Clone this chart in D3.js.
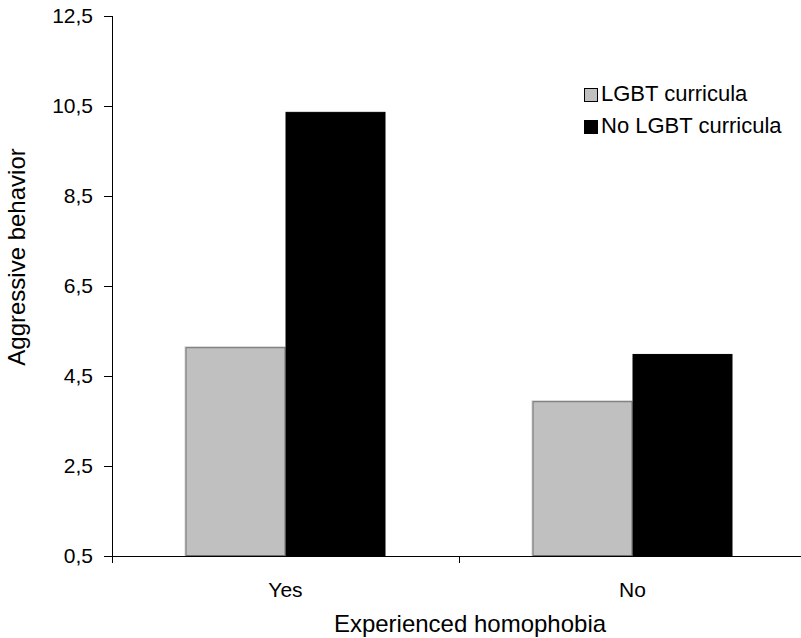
<!DOCTYPE html>
<html>
<head>
<meta charset="utf-8">
<script src="https://cdn.jsdelivr.net/npm/d3@7"></script>
<style>
  body { margin: 0; background: #fff; }
  text { font-family: "Liberation Sans", Arial, sans-serif; fill: #000; }
</style>
</head>
<body>
<svg id="chart" width="801" height="638"></svg>
<script>
// Datos
const categories = ['Yes', 'No'];
const series = ['LGBT curricula', 'No LGBT curricula'];
const lgbtValues = [5.14, 3.94];
const noLgbtValues = [10.37, 4.99];
const yTicks = [0.5, 2.5, 4.5, 6.5, 8.5, 10.5, 12.5];
const colors = ['#c0c0c0', '#000000'];

const svg = d3.select('#chart');
const plotLeft = 112, plotRight = 806, plotTop = 16, plotBottom = 556;

const y = d3.scaleLinear().domain([0.5, 12.5]).range([plotBottom, plotTop]);
const x0 = d3.scaleBand().domain(categories).range([plotLeft, plotRight]);
const x1 = d3.scaleBand().domain(series).range([0, x0.bandwidth()]).paddingOuter(0.735);

const rows = categories.map((c, i) => ({ cat: c, vals: [lgbtValues[i], noLgbtValues[i]] }));

// Barras
const groups = svg.selectAll('g.grp')
  .data(rows)
  .enter()
  .append('g')
  .attr('transform', d => `translate(${x0(d.cat)},0)`);

const bars = groups.selectAll('g.bar')
  .data(d => d.vals.map((v, j) => ({ s: series[j], v, j })))
  .enter()
  .append('g');

// halo claro alrededor de las barras grises
bars.filter(d => d.j === 0)
  .append('rect')
  .attr('x', d => x1(d.s) - 1)
  .attr('y', d => y(d.v) - 1)
  .attr('width', x1.bandwidth() + 1)
  .attr('height', d => y(0.5) - y(d.v) + 1)
  .attr('fill', '#d4d4d4');

bars.append('rect')
  .attr('x', d => x1(d.s) + 0.5)
  .attr('y', d => y(d.v) + 0.5)
  .attr('width', x1.bandwidth() - 1)
  .attr('height', d => y(0.5) - y(d.v) - 1)
  .attr('fill', d => colors[d.j])
  .attr('stroke', d => d.j === 0 ? '#707070' : '#000')
  .attr('stroke-width', 1);

// Eje Y
const yAxis = d3.axisLeft(y)
  .tickValues(yTicks)
  .tickSize(8)
  .tickPadding(11)
  .tickFormat(d => d3.format('.1f')(d).replace('.', ','));

svg.append('g')
  .attr('transform', `translate(${plotLeft},0)`)
  .call(yAxis)
  .call(g => g.select('.domain').attr('d', `M0.5,${plotTop}V${plotBottom + 7}`))
  .call(g => g.selectAll('text').style('font-size', '21px').attr('font-family', '"Liberation Sans", Arial, sans-serif'));

// Eje X
svg.append('line')
  .attr('x1', plotLeft).attr('x2', 801)
  .attr('y1', plotBottom + 0.5).attr('y2', plotBottom + 0.5)
  .attr('stroke', '#000');

svg.selectAll('line.xt')
  .data(categories.slice(1))
  .enter()
  .append('line')
  .attr('x1', d => x0(d) + 0.5).attr('x2', d => x0(d) + 0.5)
  .attr('y1', plotBottom).attr('y2', plotBottom + 7)
  .attr('stroke', '#000');

svg.selectAll('text.xl')
  .data(categories)
  .enter()
  .append('text')
  .attr('x', d => x0(d) + x0.bandwidth() / 2)
  .attr('y', 597)
  .attr('text-anchor', 'middle')
  .style('font-size', '21px')
  .text(d => d);

// Títulos de ejes
svg.append('text')
  .attr('x', 470)
  .attr('y', 632)
  .attr('text-anchor', 'middle')
  .style('font-size', '24px')
  .text('Experienced homophobia');

svg.append('text')
  .attr('transform', 'translate(25,257) rotate(-90)')
  .attr('text-anchor', 'middle')
  .style('font-size', '24px')
  .text('Aggressive behavior');

// Leyenda
const legend = svg.selectAll('g.leg')
  .data(series)
  .enter()
  .append('g')
  .attr('transform', (d, i) => `translate(584,${88 + i * 32})`);

legend.append('rect')
  .attr('x', 0.5).attr('y', 0.5)
  .attr('width', 13).attr('height', 13)
  .attr('fill', (d, i) => colors[i])
  .attr('stroke', '#000');

legend.append('text')
  .attr('x', 17)
  .attr('y', 13)
  .style('font-size', '22px')
  .text(d => d);
</script>
</body>
</html>
